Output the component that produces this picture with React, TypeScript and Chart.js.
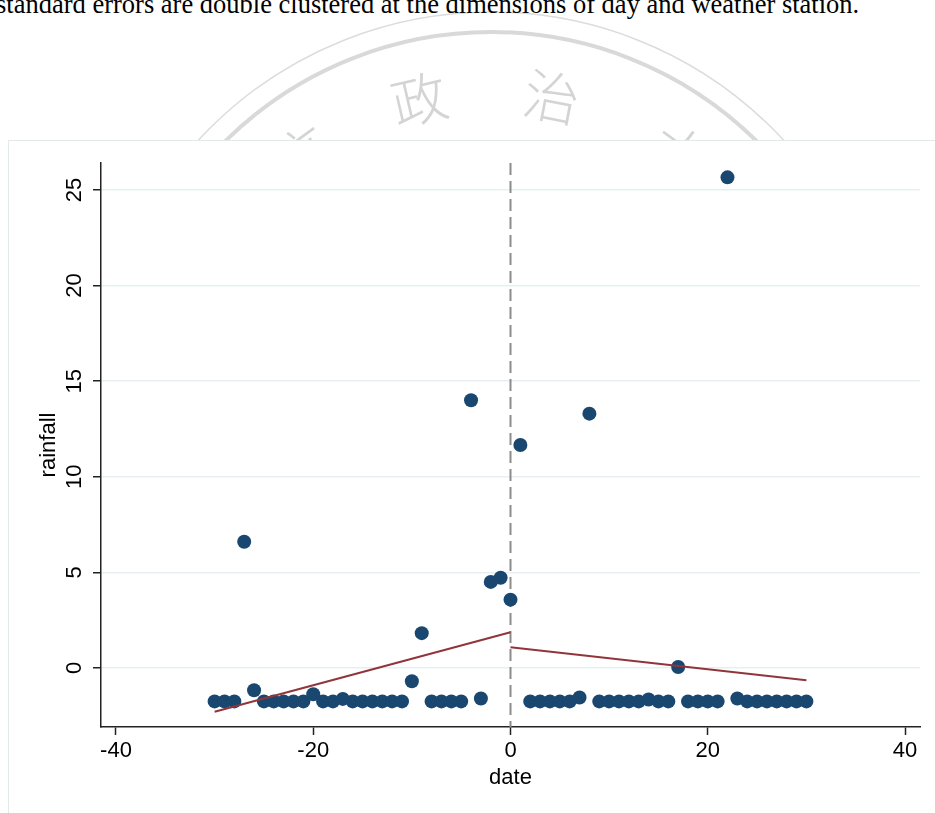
import React, { useEffect, useRef } from "react";
import { Chart, registerables } from "chart.js";

Chart.register(...registerables);

// ---------- data ----------
const DAYS = [
  -30, -29, -28, -27, -26, -25, -24, -23, -22, -21,
  -20, -19, -18, -17, -16, -15, -14, -13, -12, -11,
  -10, -9, -8, -7, -6, -5, -4, -3, -2, -1,
  0, 1, 2, 3, 4, 5, 6, 7, 8, 9,
  10, 11, 12, 13, 14, 15, 16, 17, 18, 19,
  20, 21, 22, 23, 24, 25, 26, 27, 28, 29, 30,
];

const RAINFALL = [
  -1.75, -1.75, -1.75, 6.6, -1.17, -1.75, -1.75, -1.75, -1.75, -1.75,
  -1.38, -1.75, -1.75, -1.62, -1.75, -1.75, -1.75, -1.75, -1.75, -1.75,
  -0.7, 1.82, -1.75, -1.75, -1.75, -1.75, 14.0, -1.6, 4.5, 4.72,
  3.57, 11.66, -1.75, -1.75, -1.75, -1.75, -1.75, -1.55, 13.3, -1.75,
  -1.75, -1.75, -1.75, -1.75, -1.65, -1.75, -1.75, 0.05, -1.75, -1.75,
  -1.75, -1.75, 25.66, -1.6, -1.75, -1.75, -1.75, -1.75, -1.75, -1.75, -1.75,
];

const FIT_LEFT_X = [-30, 0];
const FIT_LEFT_Y = [-2.29, 1.87];
const FIT_RIGHT_X = [0, 30];
const FIT_RIGHT_Y = [1.08, -0.64];

const X_TICKS = [-40, -20, 0, 20, 40];
const Y_TICKS = [0, 5, 10, 15, 20, 25];
const X_MIN = -41.52;
const X_MAX = 41.52;
const Y_MIN = -3.09;
const Y_MAX = 26.41;
const CUTOFF = 0;

const X_TITLE = "date";
const Y_TITLE = "rainfall";
const NOTE = "standard errors are double clustered at the dimensions of day and weather station.";
const SEAL_CHARS = ["立", "政", "治", "大"];
const SEAL_ANGLES = [-36, -13, 11, 36];

// ---------- styles ----------
const FONT_FAMILY = "'Liberation Sans', Arial, Helvetica, sans-serif";
const DOT_COLOR = "#1a476f";
const FIT_COLOR = "#90353b";
const AXIS_COLOR = "#222222";
const GRID_COLOR = "#e6eff1";

const cutoffLine = {
  id: "cutoffLine",
  beforeDatasetsDraw(chart: any) {
    const { ctx, chartArea, scales } = chart;
    const x = scales.x.getPixelForValue(CUTOFF);
    ctx.save();
    ctx.beginPath();
    ctx.setLineDash([12, 6]);
    ctx.strokeStyle = "#8c8c8c";
    ctx.lineWidth = 2;
    ctx.moveTo(x, chartArea.top);
    ctx.lineTo(x, chartArea.bottom);
    ctx.stroke();
    ctx.restore();
  },
};

function RainChart() {
  const ref = useRef<HTMLCanvasElement | null>(null);

  useEffect(() => {
    if (!ref.current) return;
    const font = { family: FONT_FAMILY, size: 22 };
    const fitStyle = {
      showLine: true,
      borderColor: FIT_COLOR,
      borderWidth: 2,
      pointRadius: 0,
      pointHoverRadius: 0,
      fill: false,
      tension: 0,
    };
    const chart = new Chart(ref.current, {
      type: "scatter",
      data: {
        datasets: [
          {
            ...fitStyle,
            label: "fit left",
            data: FIT_LEFT_X.map((x, i) => ({ x, y: FIT_LEFT_Y[i] })),
          },
          {
            ...fitStyle,
            label: "fit right",
            data: FIT_RIGHT_X.map((x, i) => ({ x, y: FIT_RIGHT_Y[i] })),
          },
          {
            label: Y_TITLE,
            data: DAYS.map((x, i) => ({ x, y: RAINFALL[i] })),
            pointRadius: 7,
            pointHoverRadius: 7,
            pointBorderWidth: 0,
            pointBackgroundColor: DOT_COLOR,
            backgroundColor: DOT_COLOR,
            borderColor: DOT_COLOR,
          },
        ],
      } as any,
      options: {
        animation: false,
        responsive: false,
        maintainAspectRatio: false,
        layout: { padding: { top: 23, right: 15, left: 0, bottom: 0 } },
        plugins: {
          legend: { display: false },
          tooltip: { enabled: false },
        },
        events: [],
        scales: {
          x: {
            type: "linear",
            position: "bottom",
            min: X_MIN,
            max: X_MAX,
            afterBuildTicks: (s: any) => {
              s.ticks = X_TICKS.map((value) => ({ value }));
            },
            afterFit: (s: any) => {
              s.height = 86;
            },
            ticks: {
              font,
              color: "#000",
              padding: 3,
              maxRotation: 0,
              autoSkip: false,
              callback: (v: any) => String(v),
            },
            grid: {
              drawOnChartArea: false,
              drawTicks: true,
              tickLength: 8,
              tickColor: AXIS_COLOR,
              tickWidth: 1.5,
            },
            border: { display: true, color: AXIS_COLOR, width: 1.5 },
            title: {
              display: true,
              text: X_TITLE,
              font,
              color: "#000",
              padding: { top: 0, bottom: 22 },
            },
          },
          y: {
            type: "linear",
            position: "left",
            min: Y_MIN,
            max: Y_MAX,
            afterBuildTicks: (s: any) => {
              s.ticks = Y_TICKS.map((value) => ({ value }));
            },
            afterFit: (s: any) => {
              s.width = 93;
            },
            ticks: {
              font,
              color: "#000",
              padding: 6,
              minRotation: 90,
              maxRotation: 90,
              crossAlign: "center",
              autoSkip: false,
              callback: (v: any) => String(v),
            },
            grid: {
              color: GRID_COLOR,
              lineWidth: 1.5,
              drawTicks: true,
              tickLength: 8,
              tickColor: AXIS_COLOR,
              tickWidth: 1.5,
            },
            border: { display: true, color: AXIS_COLOR, width: 1.5 },
            title: {
              display: true,
              text: Y_TITLE,
              font,
              color: "#000",
              padding: { top: 28, bottom: 0 },
            },
          },
        },
      } as any,
      plugins: [cutoffLine],
    });
    return () => chart.destroy();
  }, []);

  return (
    <canvas
      ref={ref}
      width={927}
      height={673}
      style={{ position: "absolute", left: 8, top: 140, width: 927, height: 673 }}
    />
  );
}

function Seal() {
  const cx = 491;
  const cy = 410;
  const rText = 322;
  return (
    <svg
      width={935}
      height={140}
      style={{ position: "absolute", left: 0, top: 0 }}
    >
      <circle cx={cx} cy={cy} r={398} fill="none" stroke="#dcdcdc" strokeWidth={1.5} />
      <circle cx={cx} cy={cy} r={378} fill="none" stroke="#d9d9d9" strokeWidth={4} />
      {SEAL_CHARS.map((ch, i) => {
        const a = (SEAL_ANGLES[i] * Math.PI) / 180;
        const x = cx + rText * Math.sin(a);
        const y = cy - rText * Math.cos(a);
        return (
          <text
            key={i}
            x={x}
            y={y}
            fontFamily="'Noto Sans CJK TC', 'Noto Sans CJK SC', sans-serif"
            fontWeight={300}
            fontSize={56}
            fill="#d4d4d4"
            textAnchor="middle"
            dominantBaseline="central"
            transform={`rotate(${SEAL_ANGLES[i]} ${x} ${y})`}
          >
            {ch}
          </text>
        );
      })}
      <text
        x={-4}
        y={13}
        fontFamily="'Liberation Serif', 'Times New Roman', serif"
        fontSize={26.5}
        fill="#000"
      >
        {NOTE}
      </text>
    </svg>
  );
}

export default function App() {
  return (
    <div
      style={{
        position: "fixed",
        left: 0,
        top: 0,
        width: 935,
        height: 813,
        background: "#fff",
        overflow: "hidden",
      }}
    >
      <Seal />
      <div
        style={{
          position: "absolute",
          left: 8,
          top: 140,
          width: 940,
          height: 700,
          background: "#fff",
          borderLeft: "1px solid #e3e8eb",
          borderTop: "1px solid #e3e8eb",
        }}
      />
      <RainChart />
    </div>
  );
}
